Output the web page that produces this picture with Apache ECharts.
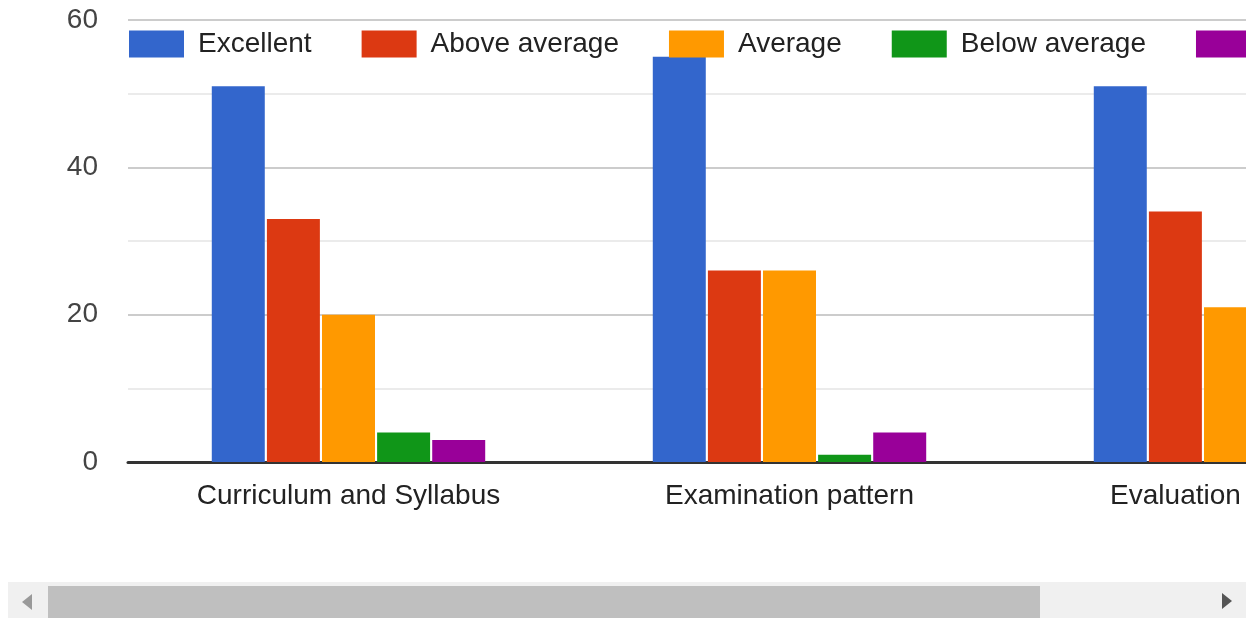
<!DOCTYPE html>
<html>
<head>
<meta charset="utf-8">
<script src="https://cdn.jsdelivr.net/npm/echarts@6/dist/echarts.min.js"></script>
<style>
  html, body { margin: 0; padding: 0; overflow: hidden; background: #fff; }
  #chart { width: 1460px; height: 618px; }
</style>
</head>
<body>
<div id="chart"></div>
<script>
// data
const categories = ['Curriculum and Syllabus', 'Examination pattern', 'Evaluation'];
const seriesNames = ['Excellent', 'Above average', 'Average', 'Below average', 'Poor'];
const excellent = [51, 55, 51];
const aboveAverage = [33, 26, 34];
const average = [20, 26, 21];
const belowAverage = [4, 1, 3];
const poor = [3, 4, 2];
const yTicks = [0, 20, 40, 60];

const colors = ['#3366cc', '#dc3912', '#ff9900', '#109618', '#990099'];
const values = [excellent, aboveAverage, average, belowAverage, poor];
const font = 'Arial, "Liberation Sans", sans-serif';

const chart = echarts.init(document.getElementById('chart'));

const option = {
  animation: false,
  color: colors,
  textStyle: { fontFamily: font },
  legend: {
    left: 129,
    top: 30,
    padding: 0,
    width: 3000,
    icon: 'rect',
    itemWidth: 55,
    itemHeight: 27,
    itemGap: 50,
    data: seriesNames,
    textStyle: { fontSize: 28, color: '#222', fontFamily: font, padding: [0, 0, 0, 9] },
    z: 10,
  },
  grid: {
    left: 128,
    top: 20,
    width: 1323,
    height: 442,
  },
  xAxis: {
    type: 'category',
    data: categories,
    axisTick: { show: false },
    axisLine: { lineStyle: { color: '#333', width: 3 } },
    axisLabel: {
      color: '#222',
      fontSize: 28,
      margin: 20,
      fontFamily: font,
      // last label is pulled back into the visible area
      formatter: (v, i) => (i === categories.length - 1 ? '{last|' + v + '}' : v),
      rich: {
        last: { color: '#222', fontSize: 28, fontFamily: font, padding: [0, 110, 0, 0] },
      },
    },
    splitLine: { show: false },
  },
  yAxis: {
    type: 'value',
    min: yTicks[0],
    max: yTicks[yTicks.length - 1],
    interval: 20,
    axisLine: { show: false },
    axisTick: { show: false },
    axisLabel: { color: '#444', fontSize: 28, margin: 30, fontFamily: font },
    splitLine: { lineStyle: { color: '#cccccc', width: 2 } },
    minorTick: { show: false, splitNumber: 2 },
    minorSplitLine: { show: true, lineStyle: { color: '#ebebeb', width: 2 } },
  },
  series: seriesNames.map((name, i) => ({
    name: name,
    type: 'bar',
    data: values[i],
    barGap: '4%',
    barCategoryGap: '38%',
    itemStyle: { color: colors[i] },
  })),
  graphic: [
    { type: 'rect', shape: { x: 8, y: 582, width: 1238, height: 36 }, style: { fill: '#f0f0f0' }, z: 100 },
    { type: 'rect', shape: { x: 48, y: 586, width: 992, height: 32 }, style: { fill: '#bfbfbf' }, z: 101 },
    { type: 'polygon', shape: { points: [[32, 594], [32, 610], [22, 602]] }, style: { fill: '#999' }, z: 101 },
    { type: 'polygon', shape: { points: [[1222, 593], [1222, 609], [1232, 601]] }, style: { fill: '#555' }, z: 101 },
  ],
};

chart.setOption(option);
</script>
</body>
</html>
